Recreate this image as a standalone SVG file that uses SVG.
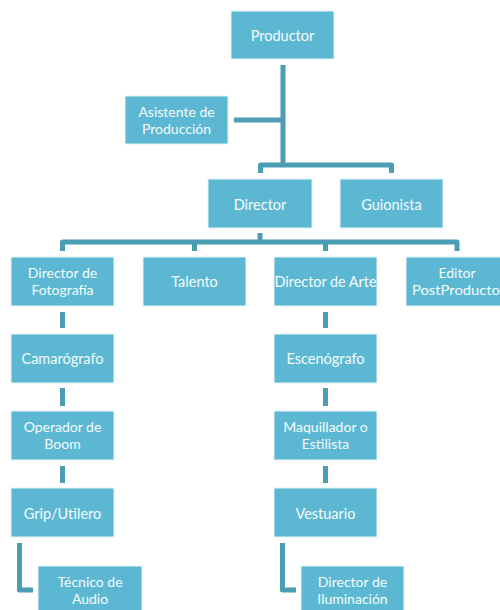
<svg xmlns="http://www.w3.org/2000/svg" width="500" height="610" viewBox="0 0 500 610">
<style>
.box{fill:#5cb8d2;stroke:#e6f4f8;stroke-width:1}
.t{font-family:Lato,"Open Sans","Liberation Sans",sans-serif;font-size:14.5px;fill:#f4fbfd;text-anchor:middle}
.t2{font-family:Lato,"Open Sans","Liberation Sans",sans-serif;font-size:14px;fill:#f4fbfd;text-anchor:middle}
.c{fill:none;stroke:#4a9db3;stroke-width:5;stroke-linejoin:round;stroke-linecap:butt}
</style>
<rect width="500" height="610" fill="#ffffff"/>
<g id="connectors">
<path class="c" d="M283 65 V165"/>
<path class="c" d="M234 120 H283"/>
<path class="c" d="M260.5 173 V165 H391.5 V173"/>
<path class="c" d="M260 233 V242"/>
<path class="c" d="M62.5 251 V242 H457 V251"/>
<path class="c" d="M194.5 242 V251"/>
<path class="c" d="M325.5 242 V251"/>
<path class="c" d="M62.5 312 V328"/>
<path class="c" d="M62.5 388 V406"/>
<path class="c" d="M62.5 466 V483"/>
<path class="c" d="M19.5 543 V590 H33"/>
<path class="c" d="M325.5 312 V328"/>
<path class="c" d="M325.5 388 V406"/>
<path class="c" d="M325.5 466 V483"/>
<path class="c" d="M282.5 543 V590 H296"/>
</g>
<g id="productor"><rect class="box" x="231" y="11" width="103" height="48"/><text class="t" x="282.5" y="41">Productor</text></g>
<g id="asistente"><rect class="box" x="125" y="96" width="103" height="48"/><text class="t2" x="176.5" y="117">Asistente de</text><text class="t2" x="176.5" y="134">Producción</text></g>
<g id="director"><rect class="box" x="208" y="179" width="104" height="49"/><text class="t" x="260" y="210">Director</text></g>
<g id="guionista"><rect class="box" x="340" y="179" width="103" height="49"/><text class="t" x="391.5" y="210">Guionista</text></g>
<g id="dir-fotografia"><rect class="box" x="11" y="257" width="103" height="49"/><text class="t2" x="62.5" y="278">Director de</text><text class="t2" x="62.5" y="295">Fotografía</text></g>
<g id="talento"><rect class="box" x="143" y="257" width="103" height="49"/><text class="t" x="194.5" y="287">Talento</text></g>
<g id="dir-arte"><rect class="box" x="274" y="257" width="103" height="49"/><text class="t" x="325.5" y="287" textLength="102" lengthAdjust="spacingAndGlyphs">Director de Arte</text></g>
<g id="editor"><rect class="box" x="406" y="257" width="103" height="49"/><text class="t2" x="457" y="278">Editor</text><text class="t2" x="456" y="295" textLength="88" lengthAdjust="spacingAndGlyphs">PostProducto</text></g>
<g id="camarografo"><rect class="box" x="11" y="334" width="103" height="49"/><text class="t" x="62.5" y="364">Camarógrafo</text></g>
<g id="operador"><rect class="box" x="11" y="411" width="103" height="49"/><text class="t2" x="62.5" y="432">Operador de</text><text class="t2" x="62.5" y="449">Boom</text></g>
<g id="grip"><rect class="box" x="11" y="488" width="103" height="49"/><text class="t" x="62.5" y="519">Grip/Utilero</text></g>
<g id="tecnico"><rect class="box" x="38" y="566" width="104" height="49"/><text class="t2" x="90" y="587">Técnico de</text><text class="t2" x="90" y="604">Audio</text></g>
<g id="escenografo"><rect class="box" x="274" y="334" width="103" height="49"/><text class="t" x="325.5" y="364">Escenógrafo</text></g>
<g id="maquillador"><rect class="box" x="274" y="411" width="103" height="49"/><text class="t2" x="325.5" y="432">Maquillador o</text><text class="t2" x="325.5" y="449">Estilista</text></g>
<g id="vestuario"><rect class="box" x="274" y="488" width="103" height="49"/><text class="t" x="325.5" y="519">Vestuario</text></g>
<g id="dir-iluminacion"><rect class="box" x="301" y="566" width="103" height="49"/><text class="t2" x="352.5" y="587">Director de</text><text class="t2" x="352.5" y="604">Iluminación</text></g>
</svg>
